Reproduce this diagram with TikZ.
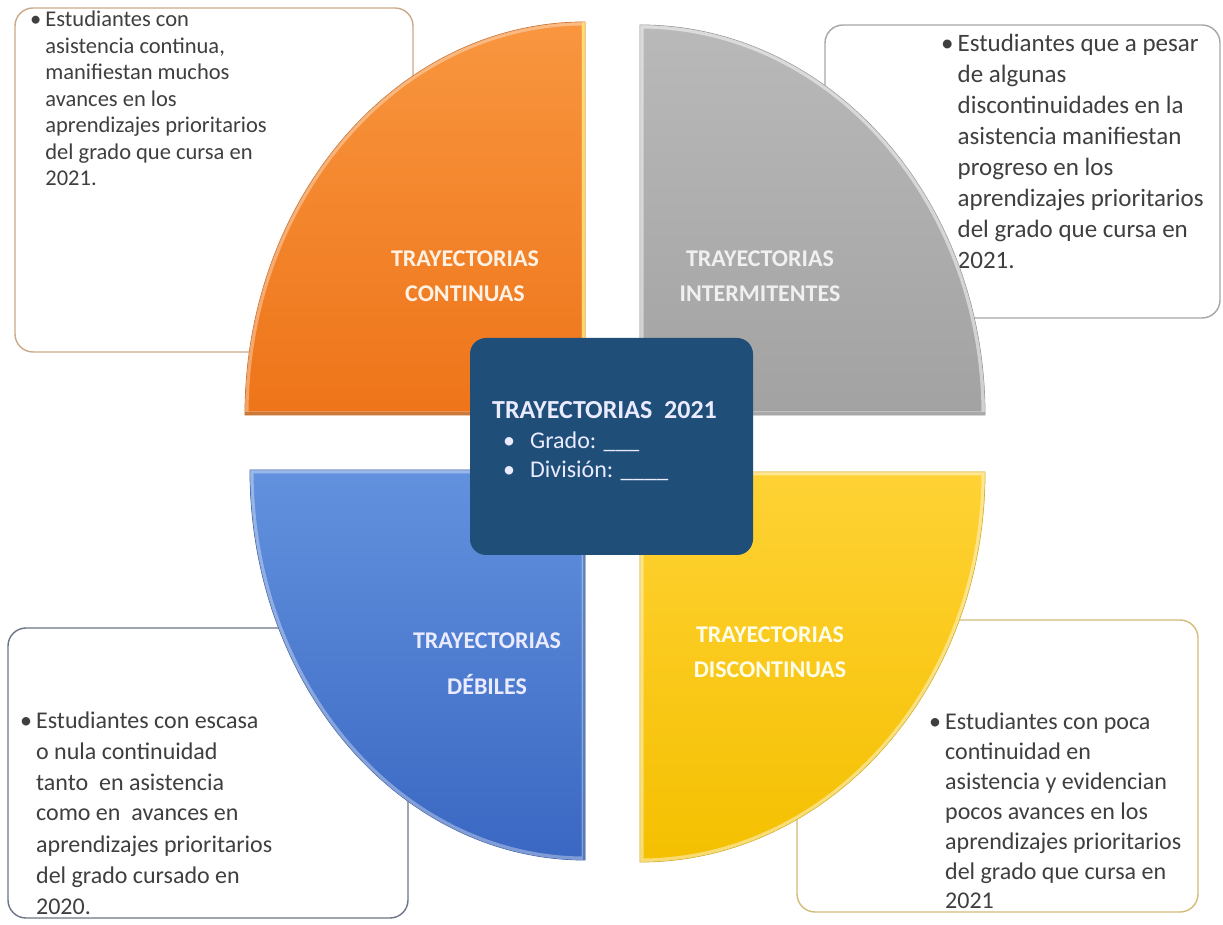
\documentclass[tikz,border=0pt]{standalone}
\usepackage{fontspec}
\setmainfont{Carlito}
\definecolor{textgray}{HTML}{3F3F3F}
\definecolor{oA}{HTML}{F8963F}
\definecolor{oB}{HTML}{EE7419}
\definecolor{gA}{HTML}{B9B9B9}
\definecolor{gB}{HTML}{A2A2A2}
\definecolor{bA}{HTML}{6292DE}
\definecolor{bB}{HTML}{3A67C2}
\definecolor{yA}{HTML}{FFD235}
\definecolor{yB}{HTML}{F4C000}
\definecolor{navy}{HTML}{1F4E79}
\definecolor{tlborder}{HTML}{C9A98A}
\definecolor{trborder}{HTML}{A6A6A6}
\definecolor{blborder}{HTML}{6A7585}
\definecolor{brborder}{HTML}{D2BC78}
\begin{document}
\begin{tikzpicture}[x=1pt,y=1pt,
  descbox/.style={draw, line width=1.4pt, fill=white, rounded corners=18pt},
  desctext/.style={anchor=base west, inner sep=0pt, text=textgray},
  qlabel/.style={align=center, inner sep=0pt, font=\bfseries\fontsize{24}{35}\selectfont},
  quarter/.style={draw=#1!85!black, line width=0.8pt},
  bevel/.style={draw=white, line width=7pt, opacity=0.35},
]
\useasboundingbox (0,0) rectangle (1223,924);
\fill[white] (0,0) rectangle (1223,924);

% description boxes
\draw[descbox, draw=tlborder] (15,572) rectangle (413,916);
\draw[descbox, draw=trborder] (825,606) rectangle (1220,899);
\draw[descbox, draw=blborder] (8,6) rectangle (408,296);
\draw[descbox, draw=brborder] (797,12) rectangle (1198,304);

\node[desctext, font=\fontsize{22.5}{26.5}\selectfont] (t1) at (30,897) {\textbullet\hspace{4pt}\parbox[t]{260pt}{\raggedright Estudiantes con\\asistencia continua,\\manifiestan muchos\\avances en los\\aprendizajes prioritarios\\del grado que cursa en\\2021.}};
\node[desctext, font=\fontsize{25}{31}\selectfont] (t2) at (941,872) {\textbullet\hspace{4pt}\parbox[t]{270pt}{\raggedright Estudiantes que a pesar\\de algunas\\discontinuidades en la\\asistencia manifiestan\\progreso en los\\aprendizajes prioritarios\\del grado que cursa en\\2021.}};
\node[desctext, font=\fontsize{24}{31}\selectfont] (t3) at (20,196) {\textbullet\hspace{4pt}\parbox[t]{270pt}{\raggedright Estudiantes con escasa\\o nula continuidad\\tanto\ \ en asistencia\\como en\ \ avances en\\aprendizajes prioritarios\\del grado cursado en\\2020.}};
\node[desctext, font=\fontsize{24}{30}\selectfont] (t4) at (929,195) {\textbullet\hspace{4pt}\parbox[t]{270pt}{\raggedright Estudiantes con poca\\continuidad en\\asistencia y evidencian\\pocos avances en los\\aprendizajes prioritarios\\del grado que cursa en\\2021}};

% quarters
\path[quarter=oB, top color=oA, bottom color=oB] (585,509) -- (245,509) arc[start angle=180,end angle=90,x radius=340,y radius=393] -- cycle;
\begin{scope}
\clip (585,509) -- (245,509) arc[start angle=180,end angle=90,x radius=340,y radius=393] -- cycle;
\draw[bevel] (585,509) -- (245,509) arc[start angle=180,end angle=90,x radius=340,y radius=393] -- cycle;
\draw[draw=yellow!60!white, line width=6pt, opacity=0.6] (585,509) -- (585,902);
\draw[draw=oB!70!black, line width=5pt, opacity=0.5] (245,509) -- (585,509);
\end{scope}

\path[quarter=gB, top color=gA, bottom color=gB] (640,509) -- (640,899) arc[start angle=90,end angle=0,x radius=345,y radius=390] -- cycle;
\begin{scope}
\clip (640,509) -- (640,899) arc[start angle=90,end angle=0,x radius=345,y radius=390] -- cycle;
\draw[bevel, opacity=0.5] (640,509) -- (640,899) arc[start angle=90,end angle=0,x radius=345,y radius=390] -- cycle;
\draw[draw=gB!70!black, line width=5pt, opacity=0.4] (640,509) -- (985,509);
\end{scope}

\path[quarter=bB, top color=bA, bottom color=bB] (585,454) -- (250,454) arc[start angle=180,end angle=270,x radius=335,y radius=390] -- cycle;
\begin{scope}
\clip (585,454) -- (250,454) arc[start angle=180,end angle=270,x radius=335,y radius=390] -- cycle;
\draw[bevel] (585,454) -- (250,454) arc[start angle=180,end angle=270,x radius=335,y radius=390] -- cycle;
\draw[draw=bB!70!black, line width=5pt, opacity=0.4] (585,454) -- (585,64);
\end{scope}

\path[quarter=yB, top color=yA, bottom color=yB] (640,452) -- (985,452) arc[start angle=0,end angle=-90,x radius=345,y radius=390] -- cycle;
\begin{scope}
\clip (640,452) -- (985,452) arc[start angle=0,end angle=-90,x radius=345,y radius=390] -- cycle;
\draw[bevel, opacity=0.45] (640,452) -- (985,452) arc[start angle=0,end angle=-90,x radius=345,y radius=390] -- cycle;
\end{scope}

% quarter labels
\node[qlabel, text=orange!10!white] (lc) at (465,648) {TRAYECTORIAS\\CONTINUAS};
\node[qlabel, text=gray!12!white] (li) at (760,648) {TRAYECTORIAS\\INTERMITENTES};
\node[qlabel, text=blue!8!white, font=\bfseries\fontsize{24}{46}\selectfont] (ld) at (487,260) {TRAYECTORIAS\\DÉBILES};
\node[qlabel, text=yellow!8!white] (ldc) at (770,272) {TRAYECTORIAS\\DISCONTINUAS};

% center box
\fill[navy, rounded corners=16pt] (470,369) rectangle (753,586);
\node[anchor=west, inner sep=0pt, text=blue!8!white, font=\bfseries\fontsize{26}{30}\selectfont] (ct) at (492,514) {TRAYECTORIAS\ \ 2021};
\node[anchor=west, inner sep=0pt, text=blue!8!white, font=\fontsize{24}{29}\selectfont, align=left] (cl) at (503,468) {\textbullet\hspace{15pt}Grado: \_\_\_\\\textbullet\hspace{15pt}División: \_\_\_\_};
\end{tikzpicture}
\end{document}
